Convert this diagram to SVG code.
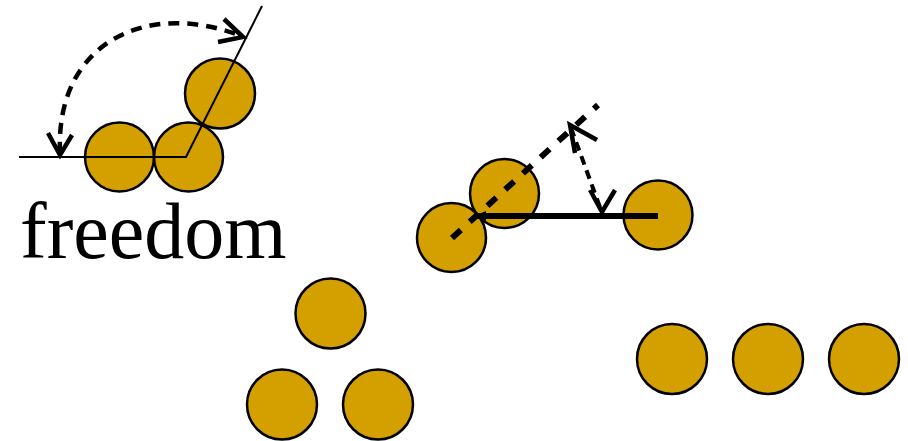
<svg xmlns="http://www.w3.org/2000/svg" width="908" height="441" viewBox="0 0 908 441">
<style>
.ball{fill:#D3A000;stroke:#000;stroke-width:2.5}
.thin{fill:none;stroke:#000;stroke-width:2}
.dash{fill:none;stroke:#000;stroke-width:4.5;stroke-dasharray:11 8}
.head{fill:none;stroke:#000;stroke-width:4.5;stroke-linecap:butt;stroke-linejoin:miter}
.lbl{font-family:"Liberation Serif","Times New Roman",serif;font-size:80px;fill:#000}
</style>
<rect width="908" height="441" fill="#fff"/>
<g id="label"><text class="lbl" x="20" y="258">freedom</text></g>
<g id="angle-group">
<circle class="ball" cx="119.5" cy="157" r="34.5"/>
<circle class="ball" cx="188.5" cy="157" r="34.5"/>
<circle class="ball" cx="220" cy="93.5" r="35"/>
</g>
<g id="bond-group">
<circle class="ball" cx="451.5" cy="237.5" r="34.5"/>
<circle class="ball" cx="504.5" cy="193.5" r="34.5"/>
<circle class="ball" cx="658" cy="215" r="34.5"/>
</g>
<g id="triangle-group">
<circle class="ball" cx="330.5" cy="313.5" r="35"/>
<circle class="ball" cx="282" cy="404.5" r="35"/>
<circle class="ball" cx="378" cy="404.5" r="35"/>
</g>
<g id="row-group">
<circle class="ball" cx="672" cy="359" r="35"/>
<circle class="ball" cx="768" cy="359" r="35"/>
<circle class="ball" cx="864" cy="359" r="35"/>
</g>
<g id="connectors">
<polyline class="thin" points="19,157 186,157 262,6"/>
<path class="dash" d="M60,153 C55,40 150,0 241,36"/>
<polyline class="head" points="48,133 60,155 72,135"/>
<polyline class="head" points="224,19 243,37 218,42"/>
<line x1="477" y1="216" x2="658" y2="216" stroke="#000" stroke-width="6"/>
<polygon points="474,216 486,211 486,221" fill="#000"/>
<line x1="452" y1="238" x2="598" y2="105" stroke="#000" stroke-width="6" stroke-dasharray="12 12"/>
<line x1="571" y1="128" x2="601" y2="210" stroke="#000" stroke-width="4" stroke-dasharray="9 6"/>
<polyline class="head" points="575,153 570,125 597,140"/>
<polyline class="head" points="590,190 602,212 615,190"/>
</g>
</svg>
